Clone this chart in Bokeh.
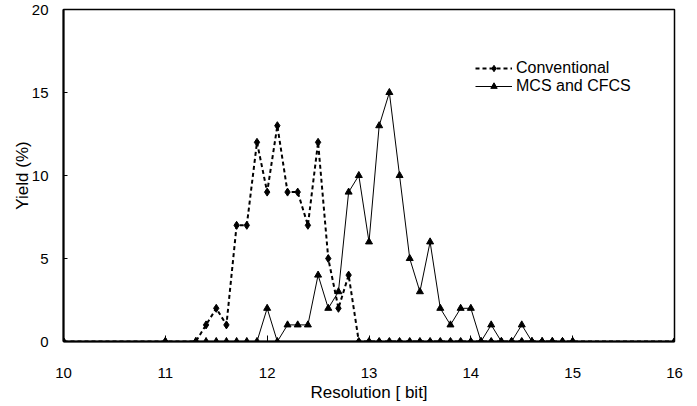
from bokeh.plotting import figure
from bokeh.models import Range1d, FixedTicker
from bokeh.embed import file_html
from bokeh.resources import INLINE

# Data
resolution = [10, 11,
              11.3, 11.4, 11.5, 11.6, 11.7, 11.8, 11.9,
              12.0, 12.1, 12.2, 12.3, 12.4, 12.5, 12.6, 12.7, 12.8, 12.9,
              13.0, 13.1, 13.2, 13.3, 13.4, 13.5, 13.6, 13.7, 13.8, 13.9,
              14.0, 14.1, 14.2, 14.3, 14.4, 14.5, 14.6, 14.7, 14.8, 14.9,
              15.0, 16]
conventional = [0, 0,
                0, 1, 2, 1, 7, 7, 12,
                9, 13, 9, 9, 7, 12, 5, 2, 4, 0,
                0, 0, 0, 0, 0, 0, 0, 0, 0, 0,
                0, 0, 0, 0, 0, 0, 0, 0, 0, 0,
                0, 0]
mcs_cfcs = [0, 0,
            0, 0, 0, 0, 0, 0, 0,
            2, 0, 1, 1, 1, 4, 2, 3, 9, 10,
            6, 13, 15, 10, 5, 3, 6, 2, 1, 2,
            2, 0, 1, 0, 0, 1, 0, 0, 0, 0,
            0, 0]
x_ticks = [10, 11, 12, 13, 14, 15, 16]
y_ticks = [0, 5, 10, 15, 20]

FONT = "Liberation Sans"

p = figure(width=690, height=405, output_backend="svg", toolbar_location=None,
           x_range=Range1d(10, 16), y_range=Range1d(0, 20),
           min_border_left=63, min_border_right=16,
           min_border_top=9, min_border_bottom=64)

p.background_fill_color = "white"
p.border_fill_color = "white"
p.xgrid.visible = False
p.ygrid.visible = False
p.outline_line_color = "black"
p.outline_line_width = 1.5

p.line(resolution, conventional, line_color="black", line_width=2,
       line_dash="4 3", legend_label="Conventional")
p.scatter(resolution, conventional, marker="diamond", size=8,
          fill_color="black", line_color="black", legend_label="Conventional")
p.line(resolution, mcs_cfcs, line_color="black", line_width=1,
       legend_label="MCS and CFCS")
p.scatter(resolution, mcs_cfcs, marker="triangle", size=7,
          fill_color="black", line_color="black", legend_label="MCS and CFCS")

for ax in (p.xaxis[0], p.yaxis[0]):
    ax.axis_line_color = "black"
    ax.axis_line_width = 2
    ax.major_tick_out = 0
    ax.minor_tick_in = 0
    ax.minor_tick_out = 0
    ax.major_tick_line_color = "black"
    ax.major_tick_line_width = 1
    ax.major_label_text_font = FONT
    ax.major_label_text_font_size = "15px"
    ax.major_label_text_color = "black"
    ax.axis_label_text_font = FONT
    ax.axis_label_text_font_size = "17px"
    ax.axis_label_text_font_style = "normal"
    ax.axis_label_text_color = "black"

p.xaxis.ticker = FixedTicker(ticks=x_ticks)
p.yaxis.ticker = FixedTicker(ticks=y_ticks)
p.xaxis.major_tick_in = 6
p.yaxis.major_tick_in = 4
p.xaxis.major_label_standoff = 26
p.xaxis.axis_label = "Resolution [ bit]"
p.xaxis.axis_label_standoff = 2
p.yaxis.major_label_standoff = 15
p.yaxis.axis_label = "Yield (%)"
p.yaxis.axis_label_standoff = -3

lg = p.legend[0]
lg.location = (412, 246)
lg.border_line_alpha = 0
lg.background_fill_alpha = 0
lg.padding = 0
lg.margin = 0
lg.spacing = -2
lg.glyph_width = 37
lg.glyph_height = 16
lg.label_height = 16
lg.label_standoff = 4
lg.label_text_font = FONT
lg.label_text_font_size = "16px"
lg.label_text_color = "black"

open("out.html", "w").write(file_html(p, INLINE))
